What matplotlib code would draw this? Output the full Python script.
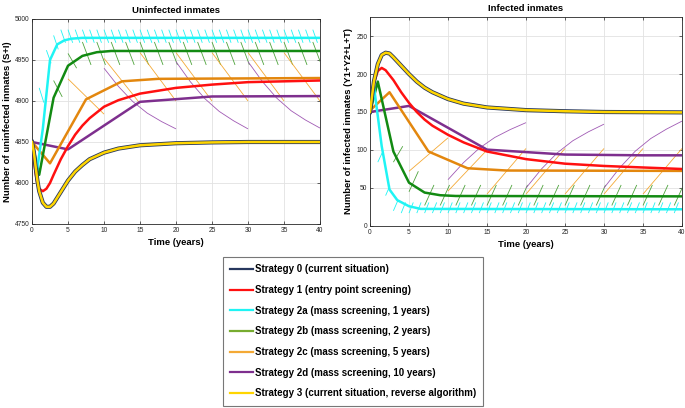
import numpy as np
import matplotlib
matplotlib.use("Agg")
import matplotlib.pyplot as plt
from matplotlib.lines import Line2D

plt.rcParams['font.family'] = ['Liberation Sans', 'DejaVu Sans']

# ---- thick curves: uninfected inmates (S+I) ----
t_s0_u = [0, 0.25, 0.5, 0.75, 1, 1.5, 2, 2.5, 3, 4, 5, 6, 7, 8, 10, 12, 15, 20, 25, 30, 40]
v_s0_u = [4850, 4838, 4820, 4803, 4790, 4776, 4771, 4771, 4775, 4789, 4803, 4814, 4822, 4829, 4837, 4842, 4846, 4848.5, 4849.5, 4850, 4850]
t_s1_u = [0, 0.25, 0.5, 0.75, 1, 1.5, 2, 2.5, 3, 4, 5, 6, 7, 8, 10, 12, 15, 20, 25, 30, 40]
v_s1_u = [4850, 4830, 4812, 4799, 4793, 4790, 4793, 4800, 4810, 4829, 4845, 4859, 4870, 4879, 4893, 4901, 4909, 4916, 4920, 4923, 4925]
t_2a_u = [0, 0.7, 1.5, 2.5, 3.5, 4.5, 5.5, 7, 40]
v_2a_u = [4850, 4815, 4866, 4950, 4969, 4974, 4976, 4977, 4977]
t_2b_u = [0, 1, 3, 5, 7, 9, 11, 40]
v_2b_u = [4850, 4810, 4904, 4943, 4955, 4959.5, 4961, 4961]
t_2c_u = [0, 2.5, 7.5, 12.5, 17.5, 40]
v_2c_u = [4850, 4824, 4902, 4924, 4927, 4928]
t_2d_u = [0, 5, 15, 25, 40]
v_2d_u = [4850, 4841, 4899, 4905.5, 4906]

# ---- thick curves: infected inmates (Y1+Y2+L+T) ----
t_s0_i = [0, 0.25, 0.5, 1, 1.5, 2, 2.5, 3, 4, 5, 6, 7, 8, 10, 12, 15, 20, 25, 30, 40]
v_s0_i = [150, 170, 190, 213, 225, 228, 227, 222, 211, 200, 190, 182, 176, 167, 161, 156, 152.5, 151, 150, 149.5]
t_s1_i = [0, 0.25, 0.5, 1, 1.5, 2, 3, 4, 5, 6, 7, 8, 10, 12, 15, 20, 25, 30, 40]
v_s1_i = [150, 170, 188, 204, 208, 205, 192, 176, 162, 150, 140, 132, 120, 110, 98, 88, 82, 79, 75]
t_2a_i = [0, 0.5, 1.5, 2.5, 3.5, 5, 6.5, 40]
v_2a_i = [150, 184, 105, 48, 34, 26, 22.5, 22]
t_2b_i = [0, 1, 3, 5, 7, 9, 11, 40]
v_2b_i = [150, 190, 98, 57, 44, 40.5, 39.5, 39]
t_2c_i = [0, 2.5, 7.5, 12.5, 17.5, 40]
v_2c_i = [152, 176, 98, 76, 73, 72.5]
t_2d_i = [0, 5, 15, 25, 35, 40]
v_2d_i = [150, 158, 100.5, 94, 93, 93]

# ---- thin trajectories between screenings ----
# 2a: yearly
ts_2a = list(range(1, 40))
a_u_from = [4916, 4962, 4980] + [4987] * 36
a_u_to = [4898, 4946, 4963] + [4971] * 36
a_i_from = [84, 40, 20] + [17] * 36
a_i_to = [96, 53, 33] + [31] * 36
# 2b: every 2 years
ts_2b = list(range(3, 40, 2))
b_u_from = [4925, 4958] + [4972] * 17
b_u_to = [4905, 4940] + [4944] * 17
b_i_from = [84, 45] + [27] * 17
b_i_to = [105, 72] + [54] * 17
# 2c: every 5 years
ts_2c = [5, 10, 15, 20, 25, 30, 35]
c_u_from = [4927, 4952, 4959, 4959, 4959, 4959, 4959]
c_u_to = [4884, 4897, 4900, 4900, 4900, 4900, 4900]
c_i_from = [72, 46, 42, 42, 42, 42, 42]
c_i_to = [116, 100, 102, 102, 102, 102, 102]
# 2d: every 10 years
ts_2d = [10, 20, 30]
d_u_from = [4940, 4948, 4948]
d_u_to = [4866, 4866, 4867]
d_i_from = [61, 50, 50]
d_i_to = [136, 134, 138]
arc_rel = [0, 0.2, 0.4, 0.6, 0.8, 1.0]
arc_frac = [0, 0.3, 0.55, 0.74, 0.88, 1.0]

labels = ["Strategy 0 (current situation)",
          "Strategy 1 (entry point screening)",
          "Strategy 2a (mass screening, 1 years)",
          "Strategy 2b (mass screening, 2 years)",
          "Strategy 2c (mass screening, 5 years)",
          "Strategy 2d (mass screening, 10 years)",
          "Strategy 3 (current situation, reverse algorithm)"]

NAVY = '#27375e'
RED = '#ff1010'
CYAN = '#1ff4f4'
GREEN = '#128a12'
GREEN_L = '#4ea43c'
ORANGE = '#e3870e'
ORANGE_L = '#f4a935'
PURPLE = '#7e2f8e'
PURPLE_L = '#a05ab4'
YELLOW = '#ffd500'
legend_colors = [NAVY, RED, CYAN, '#77ac30', ORANGE_L, PURPLE, YELLOW]


def thin(ax, starts, v_from, v_to, dur, color, rel=(0, 1), frac=(0, 1)):
    rel = np.array(rel)
    frac = np.array(frac)
    for t0, a, b in zip(starts, v_from, v_to):
        ax.plot(t0 + rel * dur, a + frac * (b - a), color=color, lw=0.6, zorder=2,
                solid_capstyle='butt')


def style(ax, ylim, yticks, title, ylabel):
    ax.set_xlim(0, 40)
    ax.set_ylim(*ylim)
    ax.set_xticks(range(0, 41, 5))
    ax.set_yticks(yticks)
    ax.grid(True, color='#e2e2e2', lw=0.6)
    ax.set_axisbelow(True)
    ax.tick_params(direction='in', length=2.5, width=0.5, labelsize=4.8,
                   colors='#262626', pad=2, top=True, right=True)
    for s in ax.spines.values():
        s.set_linewidth(0.6)
        s.set_color('#262626')
    ax.set_title(title, fontsize=6.8, fontweight='bold', pad=4)
    ax.set_xlabel("Time (years)", fontsize=6.8, fontweight='bold', labelpad=3)
    ax.set_ylabel(ylabel, fontsize=6.8, fontweight='bold', labelpad=2)


fig = plt.figure(figsize=(6.85, 4.08), dpi=100)
ax1 = fig.add_axes([32 / 685, 1 - 224 / 408, 288 / 685, 205 / 408])
ax2 = fig.add_axes([370 / 685, 1 - 226 / 408, 312 / 685, 209 / 408])

# left panel
thin(ax1, ts_2a, a_u_from, a_u_to, 0.65, CYAN)
thin(ax1, ts_2b, b_u_from, b_u_to, 1.2, GREEN_L)
thin(ax1, ts_2c, c_u_from, c_u_to, 5, ORANGE_L)
thin(ax1, ts_2d, d_u_from, d_u_to, 10, PURPLE_L, arc_rel, arc_frac)
ax1.plot(t_2d_u, v_2d_u, color=PURPLE, lw=1.8, zorder=3)
ax1.plot(t_2c_u, v_2c_u, color=ORANGE, lw=1.8, zorder=3)
ax1.plot(t_2b_u, v_2b_u, color=GREEN, lw=1.8, zorder=3)
ax1.plot(t_2a_u, v_2a_u, color=CYAN, lw=1.8, zorder=3)
ax1.plot(t_s1_u, v_s1_u, color=RED, lw=1.8, zorder=3)
ax1.plot(t_s0_u, v_s0_u, color=NAVY, lw=3.0, zorder=4)
ax1.plot(t_s0_u, v_s0_u, color=YELLOW, lw=1.8, zorder=5)
style(ax1, (4750, 5000), range(4750, 5001, 50), "Uninfected inmates",
      "Number of uninfected inmates (S+I)")

# right panel
thin(ax2, ts_2a, a_i_from, a_i_to, 0.55, CYAN)
thin(ax2, ts_2b, b_i_from, b_i_to, 1.2, GREEN_L)
thin(ax2, ts_2c, c_i_from, c_i_to, 5, ORANGE_L)
thin(ax2, ts_2d, d_i_from, d_i_to, 10, PURPLE_L, arc_rel, arc_frac)
ax2.plot(t_2d_i, v_2d_i, color=PURPLE, lw=1.8, zorder=3)
ax2.plot(t_2c_i, v_2c_i, color=ORANGE, lw=1.8, zorder=3)
ax2.plot(t_2b_i, v_2b_i, color=GREEN, lw=1.8, zorder=3)
ax2.plot(t_2a_i, v_2a_i, color=CYAN, lw=1.8, zorder=3)
ax2.plot(t_s1_i, v_s1_i, color=RED, lw=1.8, zorder=3)
ax2.plot(t_s0_i, v_s0_i, color=NAVY, lw=3.0, zorder=4)
ax2.plot(t_s0_i, v_s0_i, color=YELLOW, lw=1.8, zorder=5)
style(ax2, (0, 275), range(0, 251, 50), "Infected inmates",
      "Number of infected inmates (Y1+Y2+L+T)")

handles = [Line2D([], [], color=c, lw=1.6) for c in legend_colors]
leg = fig.legend(handles, labels, loc='upper left',
                 bbox_to_anchor=(223 / 685, 1 - 257 / 408),
                 prop={'size': 7.0, 'weight': 'bold'}, frameon=True,
                 fancybox=False, handlelength=2.3, handletextpad=0.2,
                 labelspacing=1.1, borderpad=0.75, borderaxespad=0)
leg.get_frame().set_edgecolor('#555555')
leg.get_frame().set_linewidth(0.8)

fig.savefig("out.png", dpi=100)
